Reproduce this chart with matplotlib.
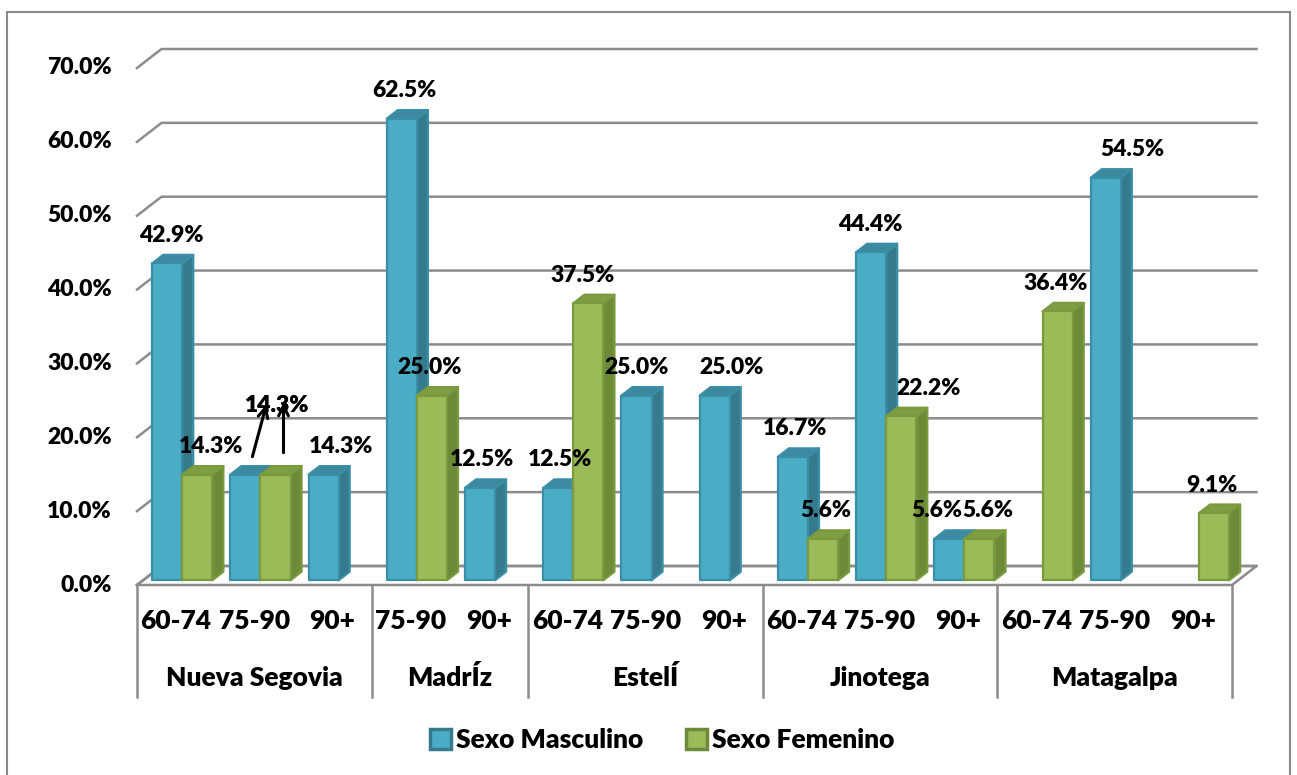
import numpy as np
import matplotlib
matplotlib.use("Agg")
import matplotlib.pyplot as plt
from matplotlib.patches import Polygon, Patch, Rectangle

plt.rcParams['font.family'] = ['Lato', 'DejaVu Sans']
plt.rcParams['font.weight'] = 'heavy'
WT = "heavy"

# data
municipios = ["Nueva Segovia", "MadrÍz", "EstelÍ", "Jinotega", "Matagalpa"]
edades = [["60-74", "75-90", "90+"],
          ["75-90", "90+"],
          ["60-74", "75-90", "90+"],
          ["60-74", "75-90", "90+"],
          ["60-74", "75-90", "90+"]]
masculino = [42.9, 14.3, 14.3, 62.5, 12.5, 12.5, 25.0, 25.0, 16.7, 44.4, 5.6, None, 54.5, None]
femenino = [14.3, 14.3, None, 25.0, None, 37.5, None, None, 5.6, 22.2, 5.6, 36.4, None, 9.1]
yticks = [0, 10, 20, 30, 40, 50, 60, 70]

# label nudges in pixels (manual placement in the original)
nudge_m = [4, 32, 17, 3, 2, 2, 0, 17, 2, -1, -12, 0, 27, 0]
nudge_f = [14, 2, 0, -2, 0, -6, 0, 0, 3, 27, 8, -2, 0, -2]
lift_m = [0, 41, 0, 0, 0, 0, 0, 0, 0, 0, 0, 0, 0, 0]
lift_f = [0, 41, 0, 0, 0, 0, 0, 0, 0, 0, 0, 0, 0, 0]

W, H = 1297, 775
fig = plt.figure(figsize=(W / 100, H / 100), dpi=100)
fig.patch.set_facecolor("white")

ncat = sum(len(e) for e in edades)
x0px, x1px = 137, 1232
ybot, ytop = 585, 68
ax = fig.add_axes([x0px / W, (H - ybot) / H, (x1px - x0px) / W, (ybot - ytop) / H])
ax.set_xlim(0, ncat)
ax.set_ylim(0, 70)
ax.axis("off")

px_cat = (x1px - x0px) / ncat
px_pct = (ybot - ytop) / 70.0
DX = 24.5 / px_cat
DY = 19.0 / px_pct


def proj(x, y, z):
    return (x + DX * z, y + DY * z)


def shift(p, dxpx, dypx):
    # dypx in image convention (negative = up)
    return (p[0] + dxpx / px_cat, p[1] - dypx / px_pct)


grid_c = "#8c8c8c"
# grid lines (left wall diagonal + back wall)
for v in yticks:
    pts = [proj(0, v, 0), proj(0, v, 1), proj(ncat, v, 1)]
    ax.plot([p[0] for p in pts], [p[1] for p in pts], color=grid_c, lw=1.8,
            clip_on=False, zorder=1)
floor = [proj(0, 0, 0), proj(ncat, 0, 0), proj(ncat, 0, 1), proj(0, 0, 1), proj(0, 0, 0)]
ax.plot([p[0] for p in floor], [p[1] for p in floor], color=grid_c, lw=1.8,
        clip_on=False, zorder=1)

colors = {
    "m": dict(front="#4bacc6", edge="#3a8ea6", side="#367a8e", top="#3d8aa0"),
    "f": dict(front="#9bbb59", edge="#7a9a3e", side="#6d8a38", top="#7f9e44"),
}
z0, z1 = 0.25, 0.7


def bar3d(xa, xb, h, c):
    front = [proj(xa, 0, z0), proj(xb, 0, z0), proj(xb, h, z0), proj(xa, h, z0)]
    side = [proj(xb, 0, z0), proj(xb, 0, z1), proj(xb, h, z1), proj(xb, h, z0)]
    top = [proj(xa, h, z0), proj(xb, h, z0), proj(xb, h, z1), proj(xa, h, z1)]
    for poly, fc in ((side, c["side"]), (top, c["top"]), (front, c["front"])):
        ax.add_patch(Polygon(poly, closed=True, facecolor=fc, edgecolor=c["edge"],
                             lw=1.6, joinstyle="round", clip_on=False, zorder=3))


for i in range(ncat):
    for val, xa, xb, key, nud, lift in (
            (masculino[i], i + 0.115, i + 0.5, "m", nudge_m[i], lift_m[i]),
            (femenino[i], i + 0.5, i + 0.885, "f", nudge_f[i], lift_f[i])):
        if val is None:
            continue
        bar3d(xa, xb, val, colors[key])
        ax.annotate(f"{val:.1f}%", xy=proj((xa + xb) / 2, val, z0), xytext=(nud, 28 + lift),
                    textcoords="offset pixels", ha="center", va="center",
                    fontsize=16.5, fontweight=WT, annotation_clip=False, zorder=5)

# hand drawn arrows on the 75-90 Nueva Segovia bars
for val, xc, start, tip in ((masculino[1], 1 + 0.3075, (7, -18), (21, -70)),
                            (femenino[1], 1 + 0.6925, (8, -22), (8, -72))):
    base = proj(xc, val, z0)
    ax.annotate("", xy=shift(base, *tip), xytext=shift(base, *start),
                arrowprops=dict(arrowstyle="->,head_length=0.7,head_width=0.35",
                                color="black", lw=2.2, shrinkA=0, shrinkB=0),
                annotation_clip=False, zorder=6)

# y tick labels
for v in yticks:
    ax.annotate(f"{v:.1f}%", xy=(0, v), xytext=(-25, 0), textcoords="offset pixels",
                ha="right", va="center", fontsize=16.5, fontweight=WT,
                annotation_clip=False)

# category axis
cat_fs = 19
sep_len = 112 / px_pct
pos = 0
ax.plot([0, 0], [0, -sep_len], color=grid_c, lw=1.8, clip_on=False)
for name, eds in zip(municipios, edades):
    for j, e in enumerate(eds):
        ax.annotate(e, xy=(pos + j + 0.5, 0), xytext=(0, -36), textcoords="offset pixels",
                    ha="center", va="center", fontsize=cat_fs, fontweight=WT,
                    annotation_clip=False)
    ax.annotate(name, xy=(pos + len(eds) / 2, 0), xytext=(0, -93),
                textcoords="offset pixels", ha="center", va="center",
                fontsize=cat_fs, fontweight=WT, annotation_clip=False)
    pos += len(eds)
    ax.plot([pos, pos], [0, -sep_len], color=grid_c, lw=1.8, clip_on=False)

handles = [Patch(facecolor=colors["m"]["front"], edgecolor=colors["m"]["side"], lw=2.5,
                 label="Sexo Masculino"),
           Patch(facecolor=colors["f"]["front"], edgecolor=colors["f"]["side"], lw=2.5,
                 label="Sexo Femenino")]
fig.legend(handles=handles, loc="center", bbox_to_anchor=(662 / W, 1 - 740 / H), ncol=2,
           frameon=False, handlelength=0.8, handleheight=0.8, handletextpad=0.2,
           columnspacing=1.6, prop=dict(size=cat_fs, weight=WT))

# outer chart frame
fig.patches.append(Rectangle((7 / W, -0.05), (1290 - 7) / W, 1.05 - 12 / H,
                             transform=fig.transFigure, fill=False,
                             edgecolor="#8a8a8a", lw=1.5))

fig.savefig("out.png", dpi=100)
